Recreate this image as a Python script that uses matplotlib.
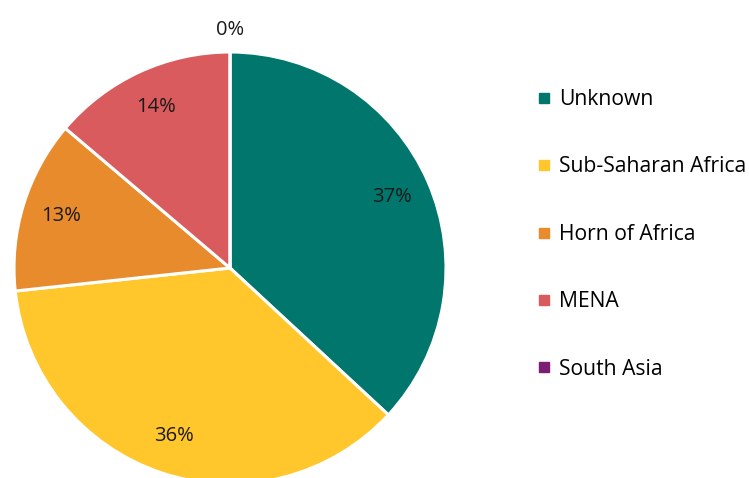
import matplotlib.pyplot as plt
from matplotlib.lines import Line2D

regions = ['Unknown', 'Sub-Saharan Africa', 'Horn of Africa', 'MENA', 'South Asia']
shares = [36.9, 36.4, 12.9, 13.8, 0.0]
colors = ['#00766C', '#FFC72C', '#E88B2C', '#D95B5E', '#7B1C75']

plt.rcParams['font.family'] = ['Open Sans', 'DejaVu Sans']

fig = plt.figure(figsize=(7.49, 4.78), dpi=100)
W, H = 749, 478
cx, cy, r = 230, 268, 216
ax = fig.add_axes([(cx - r) / W, (H - cy - r) / H, 2 * r / W, 2 * r / H])

wedges, texts, autotexts = ax.pie(shares, colors=colors, startangle=90, counterclock=False,
                                  autopct='%.0f%%', pctdistance=0.82,
                                  wedgeprops={'edgecolor': 'white', 'linewidth': 2.2},
                                  textprops={'fontsize': 14.5, 'color': '#1a1a1a'})
# the empty slice gets its label outside the pie
autotexts[-1].set_position((0.0, 1.10))
for t in autotexts:
    t.set_clip_on(False)
ax.set_xlim(-1, 1)
ax.set_ylim(-1, 1)
ax.set_aspect('equal')
ax.axis('off')

handles = [Line2D([], [], marker='s', linestyle='none', markersize=6.5,
                  markerfacecolor=c, markeredgecolor=c) for c in colors]
fig.legend(handles, regions, loc='upper left', bbox_to_anchor=(539 / W, 1 - 89 / H),
           frameon=False, fontsize=15.2, labelspacing=2.2, handlelength=0.5,
           handletextpad=0.45, borderaxespad=0, borderpad=0)

fig.savefig('out.png', dpi=100)
